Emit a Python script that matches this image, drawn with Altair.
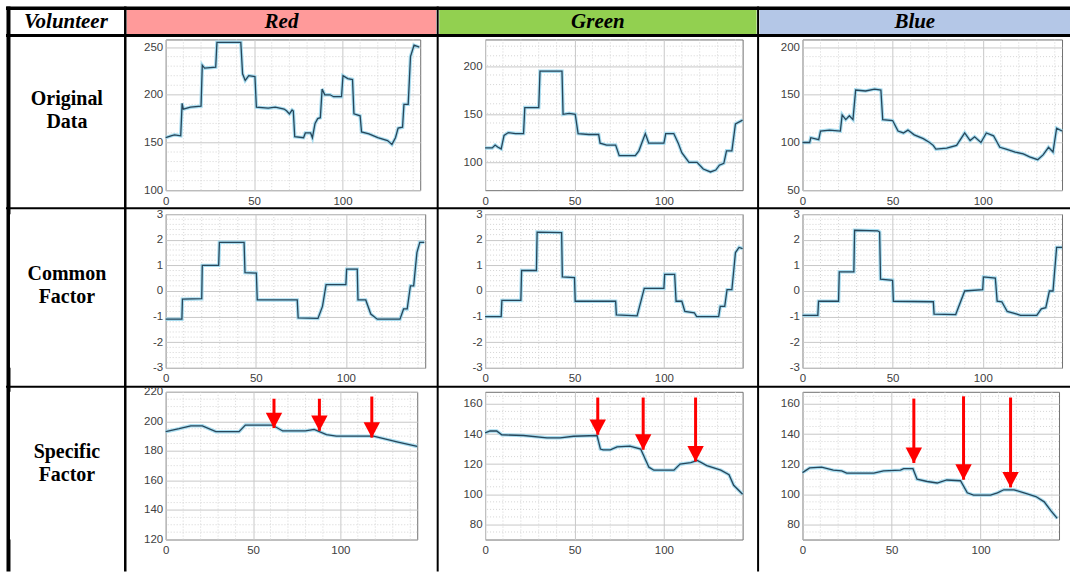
import altair as alt
import pandas as pd

# ---------------- data ----------------
volunteers = ["Red", "Green", "Blue"]
header_colours = ["#ff9a9a", "#92d050", "#b4c7e7"]
corner_label = "Volunteer"
row_labels = [["Original", "Data"], ["Common", "Factor"], ["Specific", "Factor"]]

x_domain = [0, 144]
x_ticks = [0, 50, 100]

# Original data
red_orig_x = [0, 3, 5, 8.5, 9.3, 10, 14, 20, 20.7, 22, 28.3, 29, 35, 42.5, 43.5, 45, 47, 50.5, 51.3, 58, 62, 67,
              68.5, 70, 71.5, 72.2, 73, 78, 79, 82, 83, 84.5, 86, 87.5, 88.5, 90, 93, 95, 99.5, 100.3, 103, 105.7,
              106.5, 110, 110.8, 115, 120, 125.5, 128, 130, 131.5, 134, 134.8, 137.2, 138.5, 140.5, 143.5]
red_orig_y = [155, 157, 158, 157, 191, 185, 187, 188, 231, 228, 229, 255, 255, 255, 222, 215, 220, 219, 187, 186,
              187, 185, 183, 180, 184, 183, 156, 155, 160, 160, 155, 170, 175, 176, 206, 200, 200, 198, 198, 220,
              217, 216, 180, 178, 161, 159, 155, 152, 148, 155, 165, 166, 190, 190, 240, 252, 250]
green_orig_x = [0, 4, 5.6, 7, 9, 10.6, 13, 17, 21.5, 22.2, 26, 30, 30.7, 36, 43, 43.6, 47, 50.4, 52, 58, 63.5, 64.3,
                68, 73, 75, 80, 84, 86, 89.6, 91.5, 96, 100, 101, 105.5, 108, 110, 114, 118.5, 122, 126, 129, 131,
                133.5, 135, 138, 140, 144]
green_orig_y = [115, 115, 118, 116, 114, 128, 131, 130, 130, 157, 157, 157, 195, 195, 195, 150, 151, 150, 130, 129,
                129, 120, 118, 118, 107, 107, 107, 112, 130, 120, 120, 120, 130, 130, 120, 110, 100, 100, 93, 90,
                92, 97, 99, 112, 112, 140, 144]
blue_orig_x = [0, 4, 4.6, 9, 10, 15, 21, 22, 24, 26, 28, 29.5, 35, 40, 43.5, 44.5, 50, 53, 56, 58.5, 62, 67, 70.5,
               72.5, 74, 80, 85.5, 90, 93, 95.5, 99, 102, 106, 109.5, 113, 118, 122.5, 126, 130.5, 133.5, 136.5,
               139, 141, 144]
blue_orig_y = [100, 100, 105, 103, 112, 113, 112, 129, 124, 128, 124, 155, 154, 156, 155, 124, 123, 112, 110, 113,
               108, 104, 100, 97, 93, 94, 97, 110, 102, 106, 100, 110, 107, 95, 93, 90, 88, 85, 82, 87, 95, 90,
               115, 112]

# Common factor
red_common_x = [0, 9, 9.3, 20, 20.3, 29.4, 29.8, 43.5, 44, 50.3, 50.8, 73, 73.5, 84.5, 87, 89, 100, 100.4, 106.3,
                106.7, 111, 113.8, 117.4, 130, 132, 134, 135.8, 137.6, 139.4, 141, 143.5]
red_common_y = [-1.1, -1.1, -0.32, -0.3, 1.0, 1.0, 1.9, 1.9, 0.72, 0.7, -0.35, -0.35, -1.05, -1.07, -0.6, 0.25,
                0.25, 0.85, 0.85, -0.35, -0.35, -0.9, -1.1, -1.1, -0.7, -0.7, 0.2, 0.2, 1.5, 1.9, 1.9]
green_common_x = [0, 9, 9.4, 20, 20.4, 28.7, 29.1, 42.8, 43.2, 50, 50.4, 73, 73.4, 85, 89, 100, 100.4, 106, 106.8,
                  110, 111.7, 117, 118.3, 130.6, 131.5, 134, 135.3, 138, 140, 142, 144]
green_common_y = [-1.0, -1.0, -0.37, -0.37, 0.8, 0.8, 2.3, 2.28, 0.55, 0.52, -0.4, -0.4, -0.93, -0.97, 0.1, 0.1,
                  0.65, 0.65, -0.4, -0.4, -0.8, -0.85, -1.0, -1.0, -0.6, -0.6, 0.05, 0.05, 1.5, 1.7, 1.65]
blue_common_x = [0, 8.5, 8.9, 20, 20.4, 28.5, 28.9, 41.7, 42.8, 43.3, 50, 50.4, 72.6, 73, 85, 90, 100, 100.4, 107,
                 108, 110.6, 113.6, 119, 121, 130, 132.5, 135, 137, 139, 141, 144]
blue_common_y = [-0.95, -0.95, -0.4, -0.4, 0.75, 0.75, 2.37, 2.35, 2.3, 0.46, 0.42, -0.4, -0.42, -0.9, -0.92, 0.0,
                 0.05, 0.55, 0.5, -0.4, -0.42, -0.8, -0.9, -0.95, -0.95, -0.7, -0.65, 0.0, 0.0, 1.7, 1.7]

# Specific factor
red_spec_x = [0, 7.7, 14.4, 21, 28.7, 42, 45.6, 61, 67, 80, 85, 92, 97.7, 119, 126, 133, 144]
red_spec_y = [193, 195, 197, 197, 193, 193, 197.5, 197.5, 193.5, 193.5, 194.5, 191, 190, 190, 188, 186, 183]
green_spec_x = [0, 2.8, 6.5, 9.3, 21.5, 34.6, 42, 49.5, 62.6, 64.5, 66, 70, 73.8, 81, 87, 91.6, 94.4, 105.6, 109,
                115, 118.7, 124, 131.8, 136.4, 139, 144]
green_spec_y = [140.8, 142, 142, 139.5, 139, 137.5, 137.5, 138.5, 139, 130, 129.5, 129.5, 131.5, 132, 130, 118,
                116, 116, 120, 121, 122.5, 119, 116, 113, 106, 100]
blue_spec_x = [0, 4, 10.7, 17.3, 22, 24.8, 40, 45.5, 55, 56.8, 62, 64.3, 70, 75.6, 81, 88.7, 92.5, 96, 105.6,
               109.4, 113, 118.8, 124.4, 131, 135.7, 139.5, 143]
blue_spec_y = [114.4, 117.5, 118, 116, 115.5, 114, 114, 115.5, 116, 117, 117, 110, 108.5, 107.5, 109.5, 109, 101,
               99.5, 99.5, 101, 103, 103, 101, 98.5, 95, 89, 84]

# Red arrows (x position, arrow top, arrow tip) in data units
red_arrow_x = [62, 88, 118]
red_arrow_top = [215.3, 215.3, 216.8]
red_arrow_tip = [195.5, 193.6, 189]
green_arrow_x = [63, 88.4, 117.7]
green_arrow_top = [164.2, 164.2, 164.2]
green_arrow_tip = [139.5, 129.6, 121.8]
blue_arrow_x = [62.5, 90.4, 116.8]
blue_arrow_top = [163.5, 165.0, 164.2]
blue_arrow_tip = [120.8, 109.7, 104.6]

# y axis domains / tick labels
row1_domains = [[100, 258], [71, 228], [50, 208]]
row1_ticks = [[100, 150, 200, 250], [100, 150, 200], [50, 100, 150, 200]]
row2_domain = [-3, 3]
row2_ticks = [-3, -2, -1, 0, 1, 2, 3]
row3_domains = [[120, 220], [70, 168], [70, 168]]
row3_ticks = [[120, 140, 160, 180, 200, 220], [80, 100, 120, 140, 160], [80, 100, 120, 140, 160]]

# ---------------- styling ----------------
SERIF = "Liberation Serif"
SANS = "Liberation Sans"
FRAME = "#707070"
HALO = "#9fd9ee"
CORE = "#27465a"
one = pd.DataFrame({"k": [0]})

x_minor = [v for v in range(10, 144, 10) if v % 50]


def minor_vals(lo, hi, step, major):
    out = []
    v = lo
    while v < hi - 1e-9:
        if abs(v / major - round(v / major)) > 1e-6:
            out.append(round(v, 4))
        v += step
    return out


def panel(xs, ys, ydom, yticks, ystep, ymajor, w, h, arrows=None):
    df = pd.DataFrame({"x": xs, "y": ys})
    df["i"] = range(len(df))
    xsc = alt.Scale(domain=x_domain, nice=False, zero=False)
    ysc = alt.Scale(domain=ydom, nice=False, zero=False)
    xax = alt.Axis(values=x_ticks, title=None, grid=True, ticks=False, domain=False, labelPadding=5,
                   labelExpr="'' + datum.value", labelFlush=False)
    yax = alt.Axis(values=yticks, title=None, grid=True, ticks=False, domain=False, labelPadding=3,
                   labelExpr="'' + datum.value", labelFlush=False)
    X = lambda f: alt.X(f, scale=xsc, axis=xax, title=None)
    Y = lambda f: alt.Y(f, scale=ysc, axis=yax, title=None)
    gx = alt.Chart(pd.DataFrame({"v": x_minor})).mark_rule(
        color="#d4d4d4", strokeWidth=1, strokeDash=[1, 2]).encode(x=X("v:Q"))
    ymin = minor_vals(ydom[0] + ystep, ydom[1], ystep, ymajor)
    gy = alt.Chart(pd.DataFrame({"v": ymin})).mark_rule(
        color="#d4d4d4", strokeWidth=1, strokeDash=[1, 2]).encode(y=Y("v:Q"))
    halo = alt.Chart(df).mark_line(color=HALO, strokeWidth=3.5, opacity=0.9).encode(
        x=X("x:Q"), y=Y("y:Q"), order="i:Q")
    core = alt.Chart(df).mark_line(color=CORE, strokeWidth=1.3).encode(
        x=X("x:Q"), y=Y("y:Q"), order="i:Q")
    layers = [gx, gy, halo, core]
    if arrows is not None:
        adf = pd.DataFrame({"x": arrows[0], "top": arrows[1], "tip": arrows[2]})
        shaft = alt.Chart(adf).mark_rule(color="#ff0000", strokeWidth=3).encode(
            x=X("x:Q"), y=Y("top:Q"), y2="tip:Q")
        head = alt.Chart(adf).mark_point(shape="M-1,-0.9L1,-0.9L0,1Z", filled=True, size=270,
                                         color="#ff0000", opacity=1, yOffset=-8).encode(
            x=X("x:Q"), y=Y("tip:Q"))
        layers += [shaft, head]
    return alt.layer(*layers).properties(width=w, height=h)


def text_layer(txt, x, y, size, italic=False):
    return alt.Chart(one).mark_text(text=txt, font=SERIF, fontSize=size, fontWeight="bold",
                                    fontStyle="italic" if italic else "normal", color="black",
                                    align="center", baseline="middle").encode(
        x=alt.value(x), y=alt.value(y))


def hrule(y, x1, x2, width):
    return alt.Chart(one).mark_rule(color="black", strokeWidth=width).encode(
        x=alt.value(x1), x2=alt.value(x2), y=alt.value(y))


def vrule(x, y1, y2, width):
    return alt.Chart(one).mark_rule(color="black", strokeWidth=width).encode(
        x=alt.value(x), y=alt.value(y1), y2=alt.value(y2))


def rect(x1, x2, y1, y2, colour):
    return alt.Chart(one).mark_rect(color=colour, opacity=1).encode(
        x=alt.value(x1), x2=alt.value(x2), y=alt.value(y1), y2=alt.value(y2))


NOVIEW = alt.ViewBackground(strokeWidth=0, strokeOpacity=0)

# page origin of the first label cell is (10, 39)
OX, OY = 10, 39


def label_cell(lines, w, h, extra=()):
    layers = list(extra) + [text_layer(lines[0], 67 - OX, 60, 20), text_layer(lines[1], 67 - OX, 83, 20)]
    return alt.layer(*layers).properties(width=w, height=h, view=NOVIEW)


# table decoration (drawn from the first label cell)
deco = [rect(0 - OX, 1072 - OX, 0 - OY, 572 - OY, "white")]
hdr_spans = [(127, 437), (440, 758), (761, 1072)]
for (a, b), col, name in zip(hdr_spans, header_colours, volunteers):
    deco.append(rect(a - OX, b - OX, 9.5 - OY, 33.5 - OY, col))
    deco.append(text_layer(name, (a + b) / 2 - OX, 21.5 - OY, 21, italic=True))
deco.append(text_layer(corner_label, 66 - OX, 21.5 - OY, 21, italic=True))
deco += [
    hrule(7.75 - OY, 6 - OX, 1072 - OX, 3.5),
    hrule(35 - OY, 6 - OX, 1072 - OX, 3),
    hrule(208 - OY, 6 - OX, 1072 - OX, 2),
    hrule(387 - OY, 6 - OX, 1072 - OX, 2),
    vrule(8.5 - OX, 6 - OY, 572 - OY, 4),
    vrule(125.5 - OX, 6 - OY, 572 - OY, 2.5),
    vrule(438.5 - OX, 6 - OY, 572 - OY, 2),
    vrule(759.5 - OX, 6 - OY, 572 - OY, 2),
]

cells = [
    label_cell(row_labels[0], 94, 151, deco),
    panel(red_orig_x, red_orig_y, row1_domains[0], row1_ticks[0], 10, 50, 255, 151),
    panel(green_orig_x, green_orig_y, row1_domains[1], row1_ticks[1], 10, 50, 258, 151),
    panel(blue_orig_x, blue_orig_y, row1_domains[2], row1_ticks[2], 10, 50, 260, 151),
    label_cell(row_labels[1], 87, 154),
    panel(red_common_x, red_common_y, row2_domain, row2_ticks, 0.2, 1, 260, 154),
    panel(green_common_x, green_common_y, row2_domain, row2_ticks, 0.2, 1, 258, 154),
    panel(blue_common_x, blue_common_y, row2_domain, row2_ticks, 0.2, 1, 260, 154),
    label_cell(row_labels[2], 96, 148),
    panel(red_spec_x, red_spec_y, row3_domains[0], row3_ticks[0], 5, 20, 252, 148,
          (red_arrow_x, red_arrow_top, red_arrow_tip)),
    panel(green_spec_x, green_spec_y, row3_domains[1], row3_ticks[1], 5, 20, 258, 148,
          (green_arrow_x, green_arrow_top, green_arrow_tip)),
    panel(blue_spec_x, blue_spec_y, row3_domains[2], row3_ticks[2], 5, 20, 257, 148,
          (blue_arrow_x, blue_arrow_top, blue_arrow_tip)),
]

chart = alt.concat(*cells, columns=4).properties(
    spacing={"row": 24, "column": 60}, bounds="flush", align="none", padding=0, background="white"
).configure_view(
    stroke=FRAME, strokeWidth=1, fill="white"
).configure_axis(
    labelFont=SANS, labelFontSize=11.5, labelColor="#404040", gridColor="#c8c8c8", gridWidth=1
)

chart.save("out.html", embed_options={"renderer": "svg", "actions": False})
